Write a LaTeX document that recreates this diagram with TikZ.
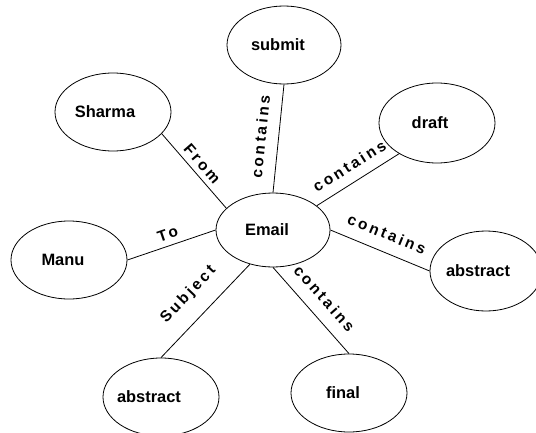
\documentclass[tikz,border=0pt]{standalone}
\usepackage{fontspec}
\setmainfont{Liberation Sans}
\newfontfamily\edgefont[LetterSpace=18]{Liberation Sans}
\usetikzlibrary{shapes.geometric}

\tikzset{
  concept/.style={draw, ellipse, line width=0.8bp, inner sep=0pt,
    minimum width=116bp, minimum height=78bp},
  name text/.style={font=\bfseries\fontsize{16.5}{18}\selectfont},
  link/.style={line width=0.8bp},
  rel/.style={font=\edgefont\bfseries\fontsize{15.5}{17}\selectfont,
    sloped, inner sep=0pt, midway, above=#1},
  rel/.default=12bp,
}

\begin{document}
\begin{tikzpicture}[x=1bp, y=1bp]
  \useasboundingbox (0,0) rectangle (536,432);

  % concepts
  \node[concept, minimum width=114bp, minimum height=74bp,
        label={[name text, xshift=-6bp]center:Email}] (email) at (273,202) {};
  \node[concept, minimum width=114bp,
        label={[name text, xshift=-6bp]center:submit}] (submit) at (284,387) {};
  \node[concept,
        label={[name text, xshift=-8bp]center:Sharma}] (sharma) at (113,320) {};
  \node[concept, minimum height=80bp,
        label={[name text, xshift=-7bp]center:draft}] (draft) at (437,309) {};
  \node[concept,
        label={[name text, xshift=-6bp]center:Manu}] (manu) at (69,172) {};
  \node[concept, minimum width=112bp, minimum height=80bp,
        label={[name text, xshift=-8bp]center:abstract}] (absR) at (486,161) {};
  \node[concept,
        label={[name text, xshift=-12bp]center:abstract}] (absB) at (161,35) {};
  \node[concept,
        label={[name text, xshift=-6bp]center:final}] (final) at (349,39) {};

  % relations
  \draw[link] (sharma.-24) -- node[rel=5bp] {From} (email.155);
  \draw[link] (email.90) -- node[rel=12bp] {contains} (submit.270);
  \draw[link] (email.29) -- node[rel=10bp] {contains} (draft.219);
  \draw[link] (email.0) -- node[rel=12bp] {contains} (absR.180);
  \draw[link] (manu.0) -- node[rel=6bp] {To} (email.180);
  \draw[link] (absB.90) -- node[rel=16bp] {Subject} (email.-124);
  \draw[link] (email.-90) -- node[rel=12bp] {contains} (final.90);
\end{tikzpicture}
\end{document}
